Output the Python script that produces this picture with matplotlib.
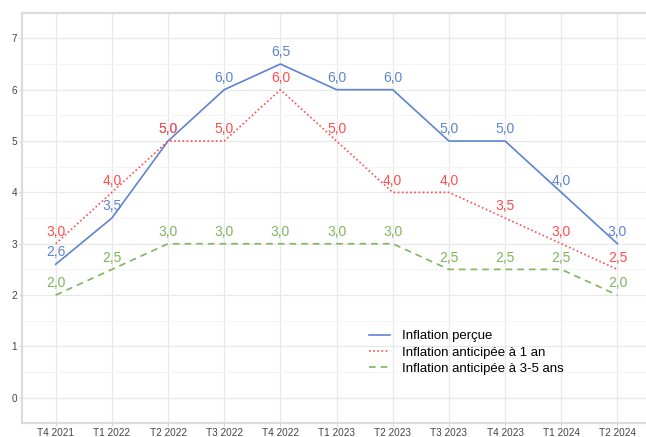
import matplotlib.pyplot as plt

plt.rcParams['font.family'] = ['Liberation Sans', 'DejaVu Sans']

quarters = ['T4 2021', 'T1 2022', 'T2 2022', 'T3 2022', 'T4 2022', 'T1 2023',
            'T2 2023', 'T3 2023', 'T4 2023', 'T1 2024', 'T2 2024']
percue = [2.6, 3.5, 5.0, 6.0, 6.5, 6.0, 6.0, 5.0, 5.0, 4.0, 3.0]
antic_1an = [3.0, 4.0, 5.0, 5.0, 6.0, 5.0, 4.0, 4.0, 3.5, 3.0, 2.5]
antic_3_5ans = [2.0, 2.5, 3.0, 3.0, 3.0, 3.0, 3.0, 2.5, 2.5, 2.5, 2.0]

series = [
    ('Inflation perçue', percue, '#5f83d0', '-'),
    ('Inflation anticipée à 1 an', antic_1an, '#ff4d4d', (0, (1, 1.5))),
    ('Inflation anticipée à 3-5 ans', antic_3_5ans, '#7fb65e', (0, (4, 3))),
]

fig = plt.figure(figsize=(6.46, 4.37), dpi=100)
ax = fig.add_axes([0.034, 0.031, 0.974, 0.940])

x = list(range(len(quarters)))
for name, vals, col, ls in series:
    ax.plot(x, vals, color=col, linestyle=ls, linewidth=1.2, label=name)
    for xi, v in zip(x, vals):
        ax.annotate(f'{v:.1f}'.replace('.', ','), (xi, v), xytext=(0, 3.5),
                    textcoords='offset points', ha='center', va='bottom',
                    color=col, fontsize=10)

ax.set_xlim(-0.6, len(quarters) - 0.4)
ax.set_ylim(-0.35, 7.35)
ax.set_xticks(x)
ax.set_xticklabels(quarters)
ax.set_yticks(range(8))
ax.set_yticks([i + 0.5 for i in range(-1, 8)], minor=True)
ax.tick_params(axis='both', which='major', labelsize=7.2, colors='#cccccc',
               length=2, width=0.6, pad=1.5)
for lab in ax.get_xticklabels() + ax.get_yticklabels():
    lab.set_color('#444444')
ax.tick_params(axis='y', which='minor', length=0)

ax.grid(True, which='major', color='#e8e8e8', linewidth=0.9)
ax.grid(True, which='minor', axis='y', color='#f4f4f4', linewidth=0.8)
ax.set_axisbelow(True)
for sp in ax.spines.values():
    sp.set_color('#dcdcdc')
    sp.set_linewidth(1.6)

ax.legend(loc='upper left', bbox_to_anchor=(0.532, 0.256), frameon=False,
          fontsize=9.5, handlelength=1.6, handletextpad=0.9, labelspacing=0.3)

fig.savefig('out.png', dpi=100)
